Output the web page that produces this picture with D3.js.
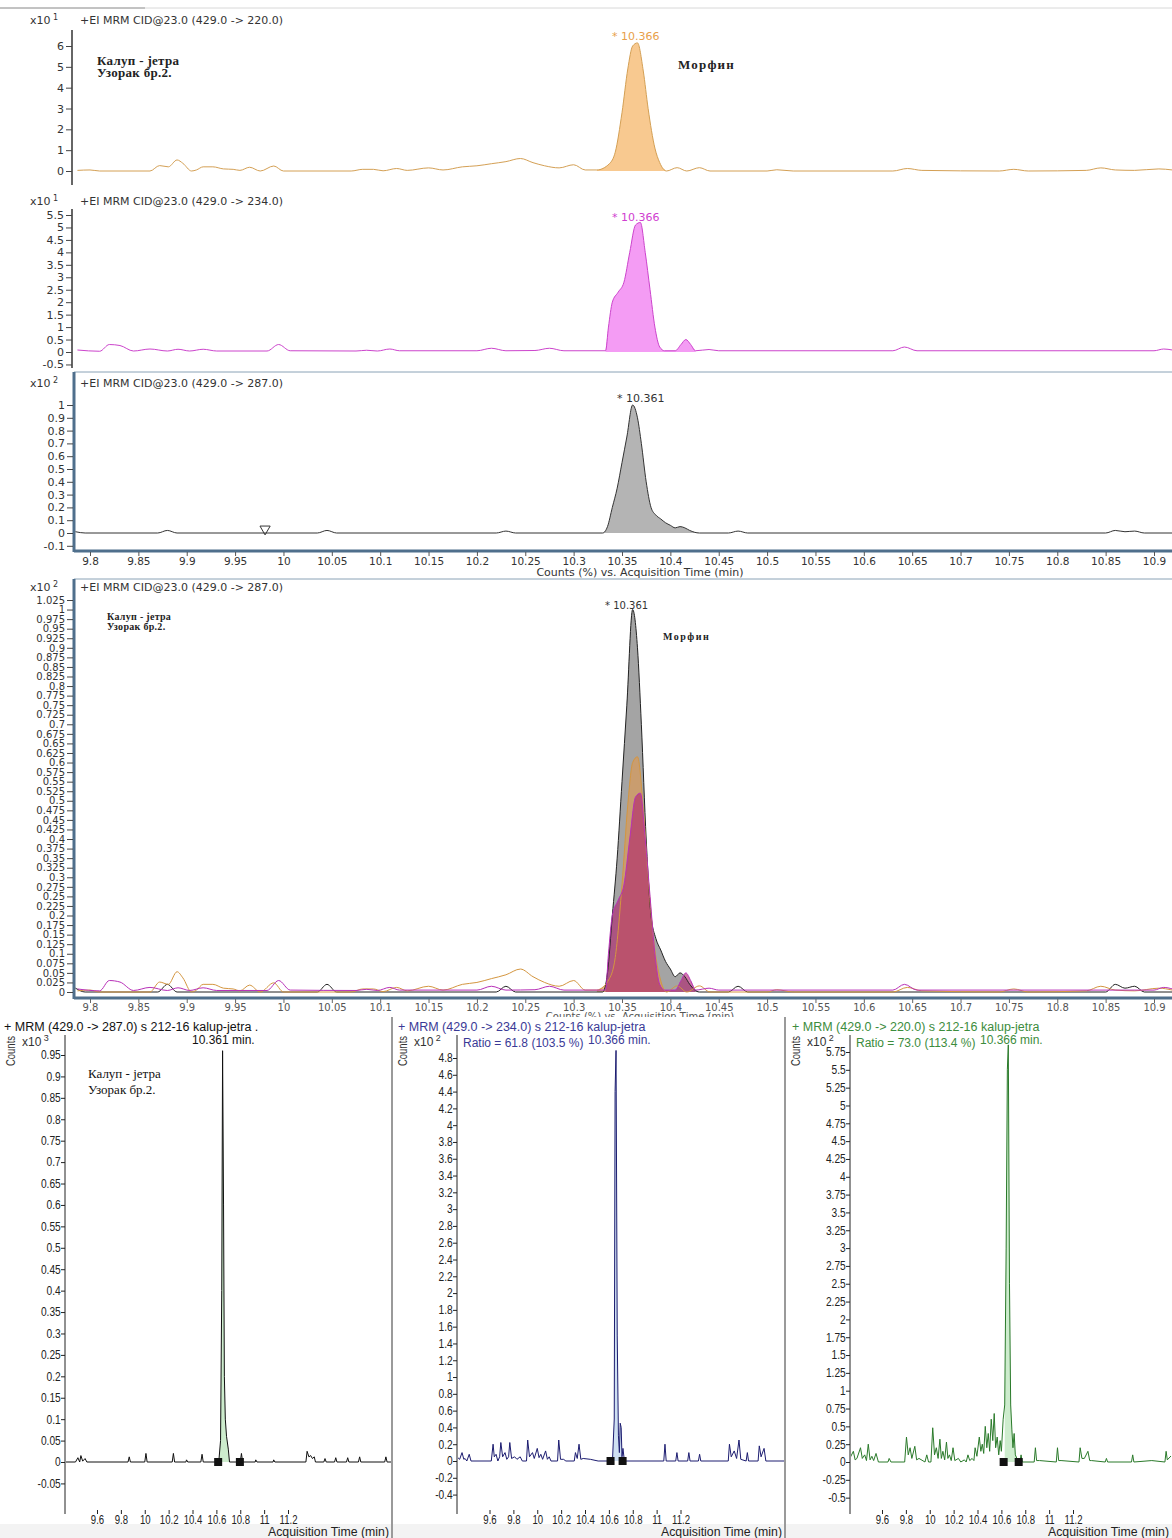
<!DOCTYPE html>
<html>
<head>
<meta charset="utf-8">
<script src="https://cdn.jsdelivr.net/npm/d3@7"></script>
<style>
body { margin: 0; background: #fff; }
svg { display: block; }
text { font-family: "DejaVu Sans", Verdana, sans-serif; }
</style>
</head>
<body>
<script>
// ---- data: top chromatograms, counts (time in min) ----
var trace220 = [[9.787,0.3],[9.80,0.5],[9.81,0],[9.862,0],[9.872,2.6],[9.881,2],[9.89,5.3],[9.896,3.7],[9.905,0],[9.91,0.5],[9.917,2],[9.927,2],[9.938,1],[9.948,0.8],[9.955,0.3],[9.965,1.8],[9.976,0],[9.99,2.4],[10.0,0],[10.07,0],[10.082,0.8],[10.093,0.8],[10.103,0.1],[10.117,1.2],[10.128,0.3],[10.15,1.5],[10.165,0.5],[10.185,2],[10.2,2.5],[10.215,3.5],[10.23,4.5],[10.245,6],[10.258,4],[10.27,2.5],[10.285,1.5],[10.30,3],[10.312,0.5],[10.324,0.5],[10.337,3.5],[10.343,9],[10.35,28],[10.356,49],[10.361,60],[10.366,61.5],[10.372,48],[10.377,30],[10.384,11],[10.389,4],[10.396,0],[10.407,1.6],[10.417,0],[10.43,1.6],[10.441,0],[10.5,0],[10.51,0.6],[10.527,0],[10.63,0],[10.645,1.2],[10.66,0.3],[10.74,0],[10.755,0.8],[10.77,0],[10.83,0.3],[10.845,1.5],[10.86,0.5],[10.88,0.3],[10.905,1],[10.919,0.5]];
var trace234 = [[9.787,0.8],[9.81,0.3],[9.82,3],[9.831,2.6],[9.845,0.4],[9.862,1.2],[9.88,0.4],[9.891,1.1],[9.903,0.4],[9.917,1.1],[9.931,0.4],[9.983,0.4],[9.995,3],[10.007,0.5],[10.075,0.4],[10.086,0.7],[10.097,0.4],[10.11,1.2],[10.12,0.5],[10.2,0.5],[10.215,1.5],[10.23,0.5],[10.26,0.6],[10.275,1.5],[10.29,0.5],[10.333,0.5],[10.336,10],[10.34,20],[10.346,24],[10.352,28],[10.358,40],[10.364,51],[10.369,52],[10.374,40],[10.379,25],[10.384,10],[10.389,2],[10.394,0.5],[10.405,0.5],[10.411,3],[10.416,5],[10.421,3],[10.426,0.5],[10.44,1],[10.45,0.5],[10.63,0.5],[10.642,2],[10.655,0.5],[10.9,0.5],[10.91,1.2],[10.919,0.8]];
var trace287 = [[9.785,1],[9.795,0],[9.87,0],[9.88,2],[9.89,0],[10.035,0],[10.045,2],[10.055,0],[10.22,0],[10.23,1.5],[10.24,0],[10.33,0],[10.335,5],[10.34,20],[10.345,35],[10.35,55],[10.355,75],[10.361,100],[10.366,90],[10.37,70],[10.375,40],[10.38,20],[10.385,14],[10.39,11],[10.395,8],[10.40,6],[10.405,4],[10.41,5],[10.415,4],[10.42,2],[10.43,0],[10.46,0],[10.47,1.5],[10.48,0],[10.85,0],[10.86,2],[10.87,1],[10.88,1.5],[10.89,0],[10.919,0]];
var fill220 = [10.324, 10.396];
var fill234 = [10.333, 10.426];
var fill287 = [10.33, 10.43];

// ---- data: bottom chromatograms (time as read on their axes) ----
var low287 = [[9.33,0],[9.42,0],[9.44,0.01],[9.455,0],[9.465,0.015],[9.48,0.002],[9.5,0.008],[9.515,0],[9.86,0],[9.87,0.012],[9.88,0],[10.0,0],[10.01,0.02],[10.02,0],[10.23,0],[10.24,0.02],[10.25,0],[10.345,0],[10.35,0.005],[10.36,0],[10.47,0],[10.48,0.018],[10.49,0],[10.62,0],[10.635,0.05],[10.645,0.4],[10.652,0.96],[10.66,0.6],[10.667,0.2],[10.675,0.1],[10.685,0.06],[10.70,0.03],[10.71,0],[10.8,0],[10.81,0.02],[10.82,0],[10.925,0],[10.93,0.005],[10.94,0],[11.075,0],[11.08,0.005],[11.09,0],[11.35,0],[11.36,0.025],[11.375,0.012],[11.39,0.015],[11.405,0.008],[11.42,0.012],[11.43,0],[11.5,0],[11.51,0.008],[11.52,0],[11.59,0],[11.6,0.01],[11.61,0],[11.69,0],[11.7,0.01],[11.71,0],[11.79,0],[11.8,0.012],[11.81,0],[12.01,0],[12.02,0.012],[12.03,0],[12.1,0]];
var low234 = [[9.327,0.05],[9.35,0.02],[9.37,0.1],[9.385,0.02],[9.395,0.03],[9.41,0],[9.43,0.08],[9.445,0],[9.615,0],[9.63,0.2],[9.64,0.05],[9.655,0.08],[9.67,0],[9.685,0.05],[9.695,0.22],[9.71,0.05],[9.73,0.1],[9.745,0.02],[9.76,0.05],[9.77,0.22],[9.785,0.03],[9.81,0.05],[9.83,0.02],[9.857,0.05],[9.875,0],[9.91,0],[9.92,0.25],[9.935,0.05],[9.96,0.1],[9.975,0.03],[10.0,0.15],[10.015,0.04],[10.03,0.08],[10.045,0.02],[10.07,0.12],[10.085,0.02],[10.1,0.05],[10.115,0],[10.17,0],[10.18,0.25],[10.195,0.02],[10.22,0.02],[10.24,0],[10.31,0],[10.32,0.1],[10.335,0.03],[10.35,0.2],[10.365,0.02],[10.385,0.03],[10.445,0.02],[10.51,0],[10.63,0],[10.645,0.5],[10.652,4.4],[10.66,4.89],[10.67,1.5],[10.68,0.3],[10.688,0.1],[10.695,0.45],[10.703,0.4],[10.71,0.05],[10.718,0.15],[10.73,0],[11.06,0],[11.07,0.2],[11.08,0],[11.16,0],[11.17,0.1],[11.18,0],[11.26,0],[11.27,0.1],[11.28,0],[11.35,0],[11.36,0.08],[11.37,0],[11.6,0],[11.61,0.2],[11.625,0.05],[11.65,0.12],[11.67,0.03],[11.69,0.25],[11.705,0.02],[11.75,0],[11.76,0.1],[11.77,0],[11.85,0],[11.86,0.18],[11.875,0.05],[11.9,0.15],[11.915,0],[12.07,0],[12.08,0.02],[12.09,0]];
var low220 = [[9.33,0.05],[9.36,0.15],[9.375,0.03],[9.39,0.05],[9.42,0.2],[9.435,0.05],[9.455,0.1],[9.47,0.02],[9.485,0.25],[9.5,0.03],[9.515,0.08],[9.53,0.02],[9.55,0.12],[9.57,0],[9.65,0],[9.66,0.05],[9.675,0],[9.79,0],[9.805,0.35],[9.82,0.1],[9.835,0.2],[9.85,0.05],[9.875,0.22],[9.89,0.03],[9.91,0.05],[9.96,0],[9.975,0.1],[9.99,0],[10.01,0],[10.025,0.48],[10.04,0.1],[10.055,0.2],[10.07,0.05],[10.085,0.32],[10.097,0.05],[10.11,0.15],[10.125,0.03],[10.14,0.28],[10.152,0.05],[10.165,0.1],[10.18,0.02],[10.195,0.2],[10.21,0.02],[10.24,0.05],[10.26,0],[10.29,0.03],[10.305,0],[10.32,0.1],[10.335,0.02],[10.355,0.05],[10.37,0.02],[10.38,0.2],[10.395,0.08],[10.415,0.35],[10.428,0.15],[10.44,0.25],[10.452,0.12],[10.465,0.5],[10.478,0.2],[10.49,0.4],[10.502,0.15],[10.515,0.6],[10.528,0.3],[10.54,0.68],[10.552,0.2],[10.565,0.35],[10.578,0.1],[10.59,0.3],[10.60,0.15],[10.615,0.6],[10.628,0.8],[10.64,3.0],[10.65,5.5],[10.658,5.85],[10.668,2.5],[10.678,0.8],[10.688,0.45],[10.697,0.2],[10.707,0.4],[10.717,0.1],[10.73,0.05],[10.745,0],[10.755,0],[10.765,0.1],[10.775,0],[10.875,0],[10.885,0.2],[10.895,0.02],[10.92,0.02],[11.06,0],[11.07,0.2],[11.08,0.02],[11.1,0.02],[11.25,0],[11.26,0.2],[11.275,0.05],[11.295,0.05],[11.325,0.15],[11.34,0.02],[11.355,0.02],[11.47,0],[11.48,0.05],[11.49,0],[11.69,0],[11.7,0.1],[11.71,0],[11.86,0.02],[11.97,0],[11.98,0.15],[11.99,0.03],[12.03,0.1]];
var lowFill287 = [10.615, 10.797], lowMarks287 = [10.615, 10.797];
var lowFill234 = [10.614, 10.715], lowMarks234 = [10.614, 10.715];
var lowFill220 = [10.619, 10.745], lowMarks220 = [10.619, 10.745];

// tick values
var topTimeTicks = d3.range(0, 23).map(function(i) { return 9.8 + i * 0.05; });
var lowTimeTicks = [9.6, 9.8, 10, 10.2, 10.4, 10.6, 10.8, 11, 11.2];
var ticks1 = [0, 1, 2, 3, 4, 5, 6];
var ticks2 = d3.range(0, 13).map(function(i) { return -0.5 + i * 0.5; });
var ticks3 = d3.range(0, 12).map(function(i) { return -0.1 + i * 0.1; });
var ticks4 = d3.range(0, 42).map(function(i) { return i * 0.025; });
var ticksL = d3.range(0, 21).map(function(i) { return -0.05 + i * 0.05; });
var ticksM = d3.range(0, 27).map(function(i) { return -0.4 + i * 0.2; });
var ticksR = d3.range(0, 26).map(function(i) { return -0.5 + i * 0.25; });

var fmt = function(d) { return String(+d.toFixed(3)); };
var narrow = "Arial, 'Liberation Sans', sans-serif";
var serifFont = "'Liberation Serif', 'DejaVu Serif', serif";

var svg = d3.select("body").append("svg")
   .attr("width", 1172)
   .attr("height", 1538);

svg.append("rect").attr("width", 1172).attr("height", 1538).attr("fill", "#fff");

// thin line on top
svg.append("line").attr("x1", 0).attr("x2", 1172).attr("y1", 8).attr("y2", 8).attr("stroke", "#d8d8d8");
svg.append("line").attr("x1", 0).attr("x2", 145).attr("y1", 8).attr("y2", 8).attr("stroke", "#9a9a9a");

var defs = svg.append("defs");
defs.append("clipPath").attr("id", "clipTop").append("rect")
   .attr("x", 75).attr("y", 0).attr("width", 1097).attr("height", 1010);

var xTop = d3.scaleLinear().domain([9.8, 10.9]).range([90, 1154]);

function yAxis(g, y, ticks, x, size) {
   g.attr("transform", "translate(" + x + ",0)")
      .call(d3.axisLeft(y).tickValues(ticks).tickSize(6).tickPadding(2).tickFormat(fmt))
      .call(function(a) { a.select(".domain").remove(); })
      .call(function(a) {
         a.selectAll("text").style("font-size", (size || 11) + "px").attr("fill", "#333");
         a.selectAll("line").attr("stroke", "#444");
      });
}

function xLabel(g, x, y, txt, exp) {
   var t = g.append("text").attr("x", x).attr("y", y).style("font-size", "11px").attr("fill", "#333").text(txt);
   t.append("tspan").attr("dy", -4).style("font-size", "8px").text(" " + exp);
}

function drawTrace(g, data, y, scaleDiv, color, fillColor, range, curve) {
   var line = d3.line()
      .x(function(d) { return xTop(d[0]); })
      .y(function(d) { return y(d[1] / scaleDiv); })
      .curve(curve);
   var area = d3.area()
      .x(function(d) { return xTop(d[0]); })
      .y0(y(0))
      .y1(function(d) { return y(d[1] / scaleDiv); })
      .curve(curve);
   if (fillColor) {
      var part = data.filter(function(d) { return d[0] >= range[0] && d[0] <= range[1]; });
      g.append("path").datum(part).attr("d", area).attr("fill", fillColor).attr("stroke", "none");
   }
   return g.append("path").datum(data).attr("d", line)
      .attr("fill", "none").attr("stroke", color).attr("stroke-width", 1);
}

function serif(g, x, y, txt, size, spacing) {
   g.append("text").attr("x", x).attr("y", y).text(txt)
      .style("font-family", serifFont)
      .style("font-size", size + "px").style("font-weight", "bold")
      .style("letter-spacing", (spacing || 0) + "px").attr("fill", "#222");
}

// ---------- panel 1 : 429 -> 220 ----------
var y1 = d3.scaleLinear().domain([0, 6]).range([171, 46]);
var p1 = svg.append("g");
xLabel(p1, 30, 24, "x10", "1");
p1.append("text").attr("x", 80).attr("y", 24).style("font-size", "11px").attr("fill", "#333").text("+EI MRM CID@23.0 (429.0 -> 220.0)");
p1.append("line").attr("x1", 72).attr("x2", 72).attr("y1", 30).attr("y2", 185).attr("stroke", "#333").attr("stroke-width", 1.5);
yAxis(p1.append("g"), y1, ticks1, 72);
var p1c = p1.append("g").attr("clip-path", "url(#clipTop)");
drawTrace(p1c, trace220, y1, 10, "#d4a055", "#f8c990", fill220, d3.curveMonotoneX);
serif(p1, 97, 65, "Калуп - јетра", 13, 0.3);
serif(p1, 97, 77, "Узорак бр.2.", 13, 0.3);
serif(p1, 678, 69, "Морфин", 13, 1.2);
p1.append("text").attr("x", 612).attr("y", 40).style("font-size", "11px").attr("fill", "#e8a04a").text("* 10.366");

// ---------- panel 2 : 429 -> 234 ----------
var y2 = d3.scaleLinear().domain([0, 5.5]).range([352, 215]);
var p2 = svg.append("g");
xLabel(p2, 30, 205, "x10", "1");
p2.append("text").attr("x", 80).attr("y", 205).style("font-size", "11px").attr("fill", "#333").text("+EI MRM CID@23.0 (429.0 -> 234.0)");
p2.append("line").attr("x1", 72).attr("x2", 72).attr("y1", 209).attr("y2", 368).attr("stroke", "#333").attr("stroke-width", 1.5);
yAxis(p2.append("g"), y2, ticks2, 72);
var p2c = p2.append("g").attr("clip-path", "url(#clipTop)");
drawTrace(p2c, trace234, y2, 10, "#cc44cc", "#f49cf4", fill234, d3.curveMonotoneX);
p2.append("text").attr("x", 612).attr("y", 221).style("font-size", "11px").attr("fill", "#d040d0").text("* 10.366");

// ---------- panel 3 : 429 -> 287 (boxed) ----------
var y3 = d3.scaleLinear().domain([0, 1]).range([533, 405]);
var p3 = svg.append("g");
p3.append("line").attr("x1", 74).attr("x2", 1172).attr("y1", 372).attr("y2", 372).attr("stroke", "#8aa2b6").attr("stroke-width", 1);
p3.append("line").attr("x1", 74).attr("x2", 74).attr("y1", 372).attr("y2", 552).attr("stroke", "#4f6f8c").attr("stroke-width", 3);
p3.append("line").attr("x1", 74).attr("x2", 1172).attr("y1", 551).attr("y2", 551).attr("stroke", "#4f6f8c").attr("stroke-width", 3);
xLabel(p3, 30, 387, "x10", "2");
p3.append("text").attr("x", 80).attr("y", 387).style("font-size", "11px").attr("fill", "#333").text("+EI MRM CID@23.0 (429.0 -> 287.0)");
yAxis(p3.append("g"), y3, ticks3, 73);
var p3c = p3.append("g").attr("clip-path", "url(#clipTop)");
drawTrace(p3c, trace287, y3, 100, "#333", "#b4b4b4", fill287, d3.curveMonotoneX);
p3.append("text").attr("x", 617).attr("y", 402).style("font-size", "11px").attr("fill", "#333").text("* 10.361");
p3.append("path")
   .attr("d", d3.symbol().type(d3.symbolTriangle).size(45)())
   .attr("transform", "translate(" + xTop(9.981) + ",529) rotate(180)")
   .attr("fill", "none").attr("stroke", "#333").attr("stroke-width", 1);
p3.append("g").attr("transform", "translate(0,552)")
   .call(d3.axisBottom(xTop).tickValues(topTimeTicks).tickSize(4).tickPadding(2).tickFormat(fmt))
   .call(function(a) {
      a.select(".domain").remove();
      a.selectAll("text").style("font-size", "10.5px").attr("fill", "#333");
      a.selectAll("line").attr("stroke", "#555");
   });
p3.append("text").attr("x", 640).attr("y", 576).attr("text-anchor", "middle").style("font-size", "11px").attr("fill", "#333").text("Counts (%) vs. Acquisition Time (min)");

// ---------- panel 4 : overlay ----------
var y4 = d3.scaleLinear().domain([0, 1.025]).range([992, 600]);
var p4 = svg.append("g");
p4.append("line").attr("x1", 74).attr("x2", 1172).attr("y1", 579).attr("y2", 579).attr("stroke", "#8aa2b6").attr("stroke-width", 1);
p4.append("line").attr("x1", 74).attr("x2", 74).attr("y1", 579).attr("y2", 999).attr("stroke", "#4f6f8c").attr("stroke-width", 3);
p4.append("line").attr("x1", 74).attr("x2", 1172).attr("y1", 998).attr("y2", 998).attr("stroke", "#4f6f8c").attr("stroke-width", 3);
xLabel(p4, 30, 591, "x10", "2");
p4.append("text").attr("x", 80).attr("y", 591).style("font-size", "11px").attr("fill", "#333").text("+EI MRM CID@23.0 (429.0 -> 287.0)");
yAxis(p4.append("g"), y4, ticks4, 73, 10);
var p4c = p4.append("g").attr("clip-path", "url(#clipTop)");
var p4f = p4c.append("g"), p4l = p4c.append("g");
function overlay(data, color, fillColor, fillOp, range) {
   var part = data.filter(function(d) { return d[0] >= range[0] && d[0] <= range[1]; });
   p4f.append("path").datum(part)
      .attr("d", d3.area().x(function(d) { return xTop(d[0]); }).y0(y4(0))
         .y1(function(d) { return y4(d[1] / 100); }).curve(d3.curveMonotoneX))
      .attr("fill", fillColor).attr("fill-opacity", fillOp);
   p4l.append("path").datum(data)
      .attr("d", d3.line().x(function(d) { return xTop(d[0]); })
         .y(function(d) { return y4(d[1] / 100); }).curve(d3.curveMonotoneX))
      .attr("fill", "none").attr("stroke", color).attr("stroke-width", 1);
}
overlay(trace287, "#222", "#a4a4a4", 1, fill287);
overlay(trace220, "#d49640", "#d89a58", 0.7, fill220);
overlay(trace234, "#b830b8", "#b0206c", 0.6, fill234);
serif(p4, 107, 620, "Калуп - јетра", 10, 0.3);
serif(p4, 107, 630, "Узорак бр.2.", 10, 0.3);
serif(p4, 663, 640, "Морфин", 10, 1.5);
p4.append("text").attr("x", 605).attr("y", 609).style("font-size", "10px").attr("fill", "#333").text("* 10.361");
p4.append("g").attr("transform", "translate(0,999)")
   .call(d3.axisBottom(xTop).tickValues(topTimeTicks).tickSize(4).tickPadding(1).tickFormat(fmt))
   .call(function(a) {
      a.select(".domain").remove();
      a.selectAll("text").style("font-size", "10px").attr("fill", "#555");
      a.selectAll("line").attr("stroke", "#666");
   });
p4.append("text").attr("x", 640).attr("y", 1020).attr("text-anchor", "middle").style("font-size", "10px").attr("fill", "#555").text("Counts (%) vs. Acquisition Time (min)");

// ---------- bottom panels ----------
svg.append("rect").attr("x", 0).attr("y", 1017).attr("width", 1172).attr("height", 521).attr("fill", "#fff");
svg.append("rect").attr("x", 0).attr("y", 1524).attr("width", 1172).attr("height", 14).attr("fill", "#f3f3f3");

// squeeze axis labels horizontally, like the narrow font of the original
function squeeze(a, k) {
   a.selectAll("text").attr("transform", "scale(" + k + ",1)")
      .style("font-family", narrow).style("font-size", "12px").attr("fill", "#222");
}

function lowPanel(o) {
   var g = svg.append("g");
   var x = d3.scaleLinear().domain([9.6, 11.2]).range([o.x96, o.x96 + 191]);
   var y = d3.scaleLinear().domain([0, o.topVal]).range([o.y0, o.yTop]);
   var id = "clip" + o.id;
   defs.append("clipPath").attr("id", id).append("rect")
      .attr("x", o.axisX + 1).attr("y", 1030).attr("width", o.right - o.axisX - 2).attr("height", 490);

   g.append("text").attr("x", o.titleX).attr("y", 1031).style("font-family", narrow).style("font-size", "12.5px")
      .attr("fill", o.textColor).text(o.title);
   g.append("text").attr("transform", "translate(" + (o.axisX - 50) + ",1051) rotate(-90)")
      .attr("text-anchor", "middle").style("font-family", narrow).style("font-size", "12px")
      .attr("textLength", 30).attr("lengthAdjust", "spacingAndGlyphs")
      .attr("fill", "#333").text("Counts");
   var ex = g.append("text").attr("x", o.axisX - 43).attr("y", 1046).style("font-family", narrow).style("font-size", "12px")
      .attr("fill", "#333").text("x10");
   ex.append("tspan").attr("dy", -5).style("font-size", "9px").text(" " + o.exp);

   g.append("line").attr("x1", o.axisX).attr("x2", o.axisX).attr("y1", 1035).attr("y2", 1510)
      .attr("stroke", "#222").attr("stroke-width", 1);
   g.append("g").attr("transform", "translate(" + o.axisX + ",0)")
      .call(d3.axisLeft(y).tickValues(o.ticks).tickSize(4).tickPadding(1).tickFormat(fmt))
      .call(function(a) {
         a.select(".domain").remove();
         squeeze(a, 0.85);
         a.selectAll("line").attr("stroke", "#222");
      });
   g.append("g").attr("transform", "translate(0,1510)")
      .call(d3.axisBottom(x).tickValues(lowTimeTicks).tickSize(4).tickPadding(1).tickFormat(fmt))
      .call(function(a) {
         a.select(".domain").remove();
         squeeze(a, 0.8);
         a.selectAll("line").attr("stroke", "#222");
      });
   g.append("line").attr("x1", o.axisX).attr("x2", o.axisX).attr("y1", 1510).attr("y2", 1514).attr("stroke", "#222");
   g.append("text").attr("x", o.right - 124).attr("y", 1536)
      .attr("textLength", 121).attr("lengthAdjust", "spacingAndGlyphs")
      .style("font-family", narrow).style("font-size", "12px").attr("fill", "#222").text("Acquisition Time (min)");

   var c = g.append("g").attr("clip-path", "url(#" + id + ")");
   var part = o.data.filter(function(d) { return d[0] >= o.fill[0] && d[0] <= o.fill[1]; });
   c.append("path").datum(part)
      .attr("d", d3.area().x(function(d) { return x(d[0]); }).y0(y(0)).y1(function(d) { return y(d[1]); }))
      .attr("fill", o.fillColor);
   c.append("path").datum(o.data)
      .attr("d", d3.line().x(function(d) { return x(d[0]); }).y(function(d) { return y(d[1]); }))
      .attr("fill", "none").attr("stroke", o.color).attr("stroke-width", 1);
   c.selectAll("rect.mark").data(o.marks).enter().append("rect")
      .attr("x", function(d) { return x(d) - 4; }).attr("y", y(0) - 4)
      .attr("width", 8).attr("height", 8).attr("fill", "#111");

   if (o.ratio) {
      g.append("text").attr("x", o.axisX + 6).attr("y", 1047).style("font-family", narrow).style("font-size", "12px")
         .attr("fill", o.textColor).text(o.ratio);
   }
   g.append("text").attr("x", o.rtX).attr("y", 1044).style("font-family", narrow).style("font-size", "12px")
      .attr("fill", o.textColor).text(o.rt);
   return g;
}

var gl = lowPanel({ id: "L", axisX: 65, right: 392, x96: 97, y0: 1462, yTop: 1055, topVal: 0.95,
   ticks: ticksL, exp: "3", data: low287, fill: lowFill287, marks: lowMarks287,
   color: "#111", fillColor: "#cdeccd", textColor: "#111", titleX: 4,
   title: "+ MRM (429.0 -> 287.0) s 212-16 kalup-jetra .", rt: "10.361 min.", rtX: 192 });
gl.append("text").attr("x", 88).attr("y", 1078).text("Калуп - јетра")
   .style("font-family", serifFont).style("font-size", "13px").attr("fill", "#111");
gl.append("text").attr("x", 88).attr("y", 1094).text("Узорак бр.2.")
   .style("font-family", serifFont).style("font-size", "13px").attr("fill", "#111");

lowPanel({ id: "M", axisX: 457, right: 785, x96: 489.5, y0: 1461, yTop: 1058, topVal: 4.8,
   ticks: ticksM, exp: "2", data: low234, fill: lowFill234, marks: lowMarks234,
   color: "#1c1c70", fillColor: "#cfe0f2", textColor: "#3a3a96", titleX: 398,
   title: "+ MRM (429.0 -> 234.0) s 212-16 kalup-jetra", ratio: "Ratio = 61.8 (103.5 %)",
   rt: "10.366 min.", rtX: 588 });

lowPanel({ id: "R", axisX: 850, right: 1172, x96: 882, y0: 1462, yTop: 1052, topVal: 5.75,
   ticks: ticksR, exp: "2", data: low220, fill: lowFill220, marks: lowMarks220,
   color: "#2a7a2a", fillColor: "#cdeccd", textColor: "#3c8c3c", titleX: 792,
   title: "+ MRM (429.0 -> 220.0) s 212-16 kalup-jetra", ratio: "Ratio = 73.0 (113.4 %)",
   rt: "10.366 min.", rtX: 980 });

// separators
[392, 785].forEach(function(sx) {
   svg.append("line").attr("x1", sx).attr("x2", sx).attr("y1", 1017).attr("y2", 1538)
      .attr("stroke", "#9a9a9a").attr("stroke-width", 2);
});
</script>
</body>
</html>
